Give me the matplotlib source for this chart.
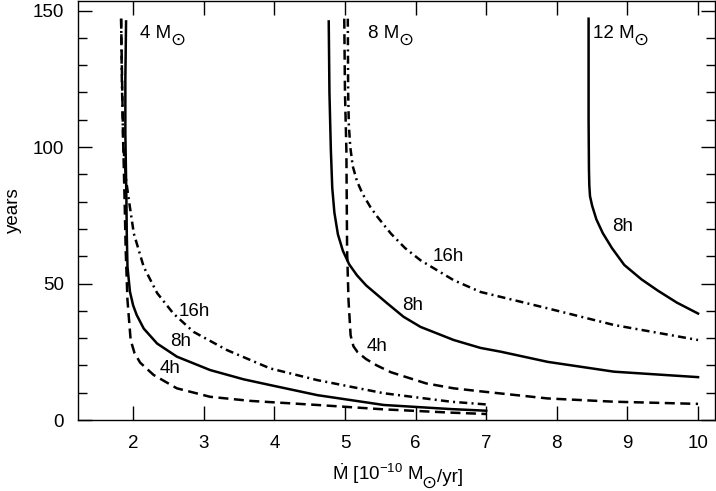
import matplotlib
matplotlib.use('Agg')
import matplotlib.pyplot as plt
from matplotlib.ticker import MultipleLocator

plt.rcParams['font.family'] = ['Liberation Sans', 'DejaVu Sans']
plt.rcParams['mathtext.fontset'] = 'custom'
plt.rcParams['mathtext.rm'] = 'Liberation Sans'
plt.rcParams['mathtext.it'] = 'Liberation Sans:italic'
plt.rcParams['mathtext.bf'] = 'Liberation Sans:bold'

# ---- data ----
# 4 Msun
m4_4h_x = [1.83, 1.84, 1.86, 1.88, 1.895, 1.92, 1.965, 2.02, 2.10, 2.29, 2.62, 3.09, 3.66, 4.61, 5.55, 6.50, 7.0]
m4_4h_y = [147, 130, 101, 80, 62.2, 43.9, 29.3, 24.5, 21.0, 16.5, 11.6, 8.5, 7.0, 5.5, 3.9, 2.7, 2.2]
m4_8h_x = [1.90, 1.89, 1.89, 1.905, 1.91, 1.92, 1.955, 2.00, 2.05, 2.15, 2.34, 2.62, 3.09, 3.565, 3.94, 4.61, 5.55, 6.50, 7.0]
m4_8h_y = [146, 125, 105, 80.5, 68.3, 56.1, 47.0, 42.0, 38.5, 33.5, 28.0, 23.2, 18.3, 14.9, 12.8, 9.1, 5.5, 4.0, 3.4]
m4_16h_x = [1.83, 1.84, 1.86, 1.90, 1.94, 2.01, 2.15, 2.34, 2.57, 2.855, 3.33, 3.94, 4.61, 5.55, 6.50, 7.0]
m4_16h_y = [147, 125, 101, 88, 80.5, 68.3, 56.1, 46.5, 39.0, 32.3, 25.6, 18.9, 14.6, 9.8, 6.7, 5.7]
# 8 Msun
m8_4h_x = [4.99, 5.00, 5.02, 5.03, 5.05, 5.08, 5.12, 5.18, 5.30, 5.45, 5.65, 6.15, 6.54, 6.92, 7.87, 8.81, 10.0]
m8_4h_y = [147, 120, 98.8, 62.2, 43.9, 31.0, 27.0, 24.8, 22.3, 20.0, 17.5, 13.4, 11.6, 10.5, 7.9, 6.7, 5.9]
m8_8h_x = [4.77, 4.78, 4.80, 4.82, 4.85, 4.90, 4.97, 5.06, 5.17, 5.30, 5.45, 5.60, 5.83, 6.07, 6.54, 6.92, 7.21, 7.87, 8.81, 10.0]
m8_8h_y = [146, 120, 99, 85, 76, 68, 62, 57, 53, 49.3, 46, 42.7, 37.8, 34.1, 29.3, 26.4, 25.0, 21.3, 17.7, 15.7]
m8_16h_x = [5.04, 5.045, 5.055, 5.075, 5.11, 5.17, 5.25, 5.36, 5.46, 5.65, 5.85, 6.07, 6.54, 6.92, 7.87, 8.81, 10.0]
m8_16h_y = [147, 120, 108, 100, 93, 87.5, 82.8, 78, 74.4, 68.3, 63, 58.5, 51.2, 46.9, 40.9, 34.8, 29.3]
# 12 Msun
m12_8h_x = [8.45, 8.45, 8.455, 8.46, 8.47, 8.50, 8.56, 8.65, 8.78, 8.955, 9.20, 9.43, 9.70, 10.0]
m12_8h_y = [147, 110, 92, 86, 82, 78.5, 73.5, 68.5, 63, 56.8, 51.5, 47.4, 43, 39.0]

mass_labels = [(2.10, 139.8, '4 M'), (5.32, 139.8, '8 M'), (8.51, 139.8, '12 M')]
period_labels = [
    (2.64, 39.6, '16h'),
    (2.52, 28.6, '8h'),
    (2.38, 18.9, '4h'),
    (6.24, 59.8, '16h'),
    (5.81, 42.0, '8h'),
    (5.31, 26.8, '4h'),
    (8.79, 70.7, '8h'),
]

x_ticks = [2, 3, 4, 5, 6, 7, 8, 9, 10]
y_ticks = [0, 50, 100, 150]

SUN = '\u2299'
fs = 13.5
sun_fs = 13


def add_sun(ax, base, dy):
    # circled-dot subscript right after an 'M'
    return ax.annotate(SUN, xy=(1, 0), xycoords=base, xytext=(-0.6, dy),
                       textcoords='offset points', ha='left', va='center',
                       fontsize=sun_fs, family='DejaVu Sans')


# ---- plot ----
fig = plt.figure(figsize=(7.16, 4.91), dpi=100)
ax = fig.add_axes([0.109, 0.1446, 0.8896, 0.854])

lw = 1.8
dashed = (0, (4, 2.2))
dashdot = (0, (3.2, 1.7, 0.8, 1.7))

ax.plot(m4_4h_x, m4_4h_y, color='black', lw=lw, linestyle=dashed)
ax.plot(m4_8h_x, m4_8h_y, color='black', lw=lw, linestyle='-')
ax.plot(m4_16h_x, m4_16h_y, color='black', lw=lw, linestyle=dashdot)
ax.plot(m8_4h_x, m8_4h_y, color='black', lw=lw, linestyle=dashed)
ax.plot(m8_8h_x, m8_8h_y, color='black', lw=lw, linestyle='-')
ax.plot(m8_16h_x, m8_16h_y, color='black', lw=lw, linestyle=dashdot)
ax.plot(m12_8h_x, m12_8h_y, color='black', lw=lw, linestyle='-')

for x, y, s in mass_labels:
    t = ax.text(x, y, s, fontsize=fs, ha='left', va='baseline')
    add_sun(ax, t, 1.8)

for x, y, s in period_labels:
    ax.text(x, y, s, fontsize=fs, ha='left', va='center')

ax.set_xlim(1.22, 10.24)
ax.set_ylim(0, 153.6)
ax.set_xticks(x_ticks)
ax.set_yticks(y_ticks)
ax.yaxis.set_minor_locator(MultipleLocator(10))
ax.tick_params(which='both', direction='in', top=True, right=True, labelsize=fs, width=1)
ax.tick_params(which='major', length=10)
ax.tick_params(which='minor', length=6.5)
ax.tick_params(axis='x', which='major', pad=11)
ax.tick_params(axis='y', which='major', pad=10)
for sp in ax.spines.values():
    sp.set_linewidth(1)

# x label built from pieces so the sun symbol gets its proper size
xl = ax.text(0.398, -0.1435, r'$\dot{\mathrm{M}}$ [10$^{-10}$ M', fontsize=fs,
             ha='left', va='baseline', transform=ax.transAxes)
xl_sun = add_sun(ax, xl, 2.6)
ax.annotate('/yr]', xy=(1, 0), xycoords=(xl_sun, xl), xytext=(0.2, 0),
            textcoords='offset points', ha='left', va='bottom', fontsize=fs)
ax.set_ylabel('years', fontsize=fs, labelpad=8)

fig.savefig('out.png', dpi=100)
